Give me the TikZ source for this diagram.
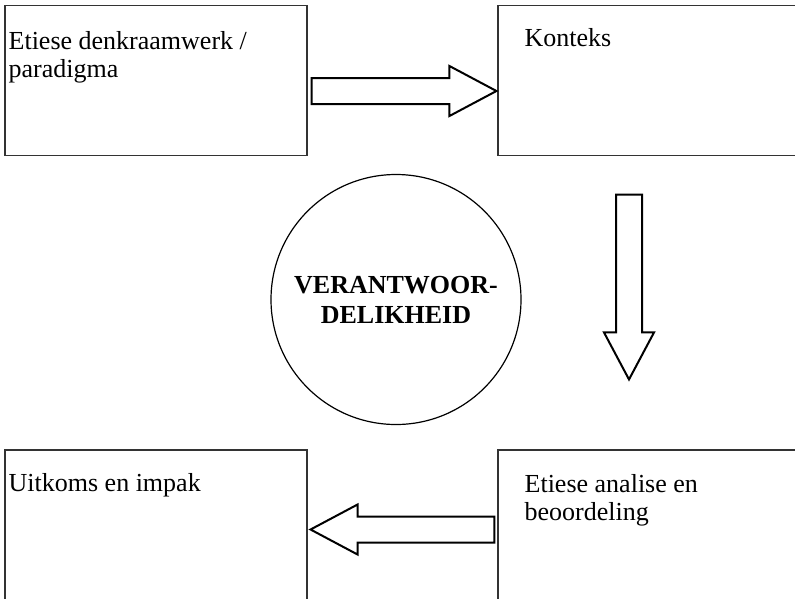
\documentclass[tikz,border=0pt]{standalone}
\usepackage{fontspec}
\setmainfont{Liberation Serif}
\usetikzlibrary{calc}

% hollow block arrow from #1 (tail) to #2 (tip)
\newcommand{\blockarrow}[2]{%
  \coordinate (hb) at ($(#2)!47pt!(#1)$);
  \draw[blk] ($(#1)!13pt!90:(#2)$) -- ($(hb)!13pt!90:(#2)$) -- ($(hb)!25pt!90:(#2)$) -- (#2)
    -- ($(hb)!25pt!-90:(#2)$) -- ($(hb)!13pt!-90:(#2)$) -- ($(#1)!13pt!-90:(#2)$) -- cycle;
}

\tikzset{
  box/.style={draw=black!80, line width=1.1pt, rectangle, minimum width=302pt, minimum height=150pt, inner sep=0pt},
  txt/.style={anchor=base west, inner sep=0pt, align=left, font=\fontsize{26}{28}\selectfont},
  blk/.style={draw=black, line width=2pt, fill=white, line join=miter},
}

\begin{document}
\begin{tikzpicture}[x=1pt,y=-1pt]
  \useasboundingbox (0,0) rectangle (795,598);
  \clip (0,0) rectangle (795,598);
  % boxes
  \node[box] (frame) at (156,80.5) {};
  \node[box] (context) at (649,80.5) {};
  \node[box] (outcome) at (156,525) {};
  \node[box] (analysis) at (649,525) {};
  % texts (base = last line)
  \node[txt] (frametxt) at ([xshift=4pt,yshift=-72.5pt]frame.north west) {Etiese denkraamwerk /\\paradigma};
  \node[txt] (contexttxt) at ([xshift=27pt,yshift=-41.5pt]context.north west) {Konteks};
  \node[txt] (outcometxt) at ([xshift=4pt,yshift=-42pt]outcome.north west) {Uitkoms en impak};
  \node[txt] (analysistxt) at ([xshift=27pt,yshift=-71pt]analysis.north west) {Etiese analise en\\beoordeling};
  % centre
  \node[circle, draw, line width=1.2pt, minimum size=250pt, inner sep=0pt, align=center,
        font=\fontsize{26}{30}\selectfont\bfseries] (resp) at (396,299.5) {VERANTWOOR-\\DELIKHEID};
  % arrows
  \coordinate (a1) at ([xshift=4pt,yshift=-10.5pt]frame.east);
  \coordinate (b1) at ([xshift=-1pt,yshift=-10.5pt]context.west);
  \blockarrow{a1}{b1}
  \coordinate (a2) at ([xshift=-20pt,yshift=-38.5pt]context.south);
  \coordinate (b2) at ([xshift=-20pt,yshift=70pt]analysis.north);
  \blockarrow{a2}{b2}
  \coordinate (a3) at ([xshift=-3pt,yshift=-4.5pt]analysis.west);
  \coordinate (b3) at ([xshift=3pt,yshift=-4.5pt]outcome.east);
  \blockarrow{a3}{b3}
\end{tikzpicture}
\end{document}
